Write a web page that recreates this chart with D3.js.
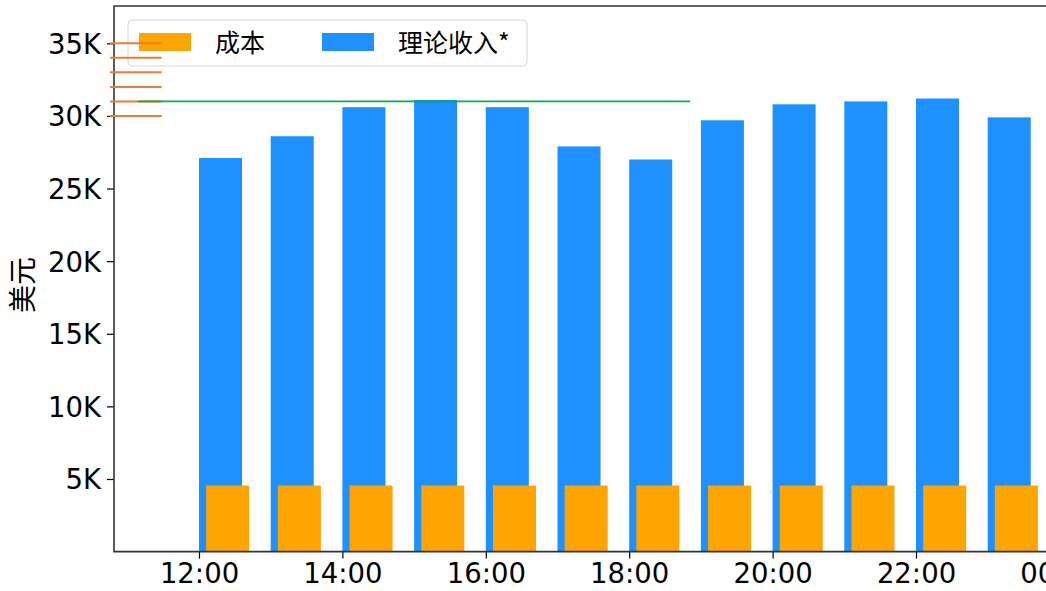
<!DOCTYPE html>
<html>
<head>
<meta charset="utf-8">
<script src="https://cdn.jsdelivr.net/npm/d3@7"></script>
<style>
  body { margin: 0; background: #fff; }
  svg text { font-family: "DejaVu Sans", sans-serif; }
  .cjk { font-family: "Noto Sans CJK SC", "DejaVu Sans", sans-serif; }
</style>
</head>
<body>
<div id="chart"></div>
<script>
// hours of the day (bars start on the hour)
var hours = [12, 13, 14, 15, 16, 17, 18, 19, 20, 21, 22, 23];
var revenue = [27100, 28600, 30600, 31100, 30600, 27900, 27000, 29700, 30800, 31000, 31200, 29900];
var cost = [4550, 4550, 4550, 4550, 4550, 4550, 4550, 4550, 4550, 4550, 4550, 4550];
var xTicks = [12, 14, 16, 18, 20, 22, 24];
var yTicks = [5000, 10000, 15000, 20000, 25000, 30000, 35000];
var seriesNames = ["成本", "理论收入*"];
// hand drawn marks over the chart
var markLevels = [35000, 34000, 33000, 32000, 31000, 30000];
var markSpan = [10.76, 11.48];
var refLevel = 31000;
var refSpan = [11.15, 18.85];

var width = 1046, height = 591;
var plotLeft = 114, plotTop = 6, plotBottom = 551.6, plotRight = 1100;

var x = d3.scaleLinear().domain([12, 22]).range([199, 916]);
var y = d3.scaleLinear().domain([0, 37570]).range([plotBottom, plotTop]);
var barW = x(12.6) - x(12);

var svg = d3.select("#chart").append("svg")
    .attr("width", width)
    .attr("height", height);

// blue bars
svg.selectAll(".rev")
  .data(hours)
  .enter().append("rect")
    .attr("class", "rev")
    .attr("x", function(d) { return x(d); })
    .attr("y", function(d, i) { return y(revenue[i]); })
    .attr("width", barW)
    .attr("height", function(d, i) { return y(0) - y(revenue[i]); })
    .style("fill", "#1E90FF");

// orange bars, shifted a little to the right
svg.selectAll(".cost")
  .data(hours)
  .enter().append("rect")
    .attr("class", "cost")
    .attr("x", function(d) { return x(d + 0.1); })
    .attr("y", function(d, i) { return y(cost[i]); })
    .attr("width", barW)
    .attr("height", function(d, i) { return y(0) - y(cost[i]); })
    .style("fill", "#FFA500");

// axes
var xAxis = svg.append("g")
    .attr("transform", "translate(0," + plotBottom + ")")
    .call(d3.axisBottom(x).tickValues(xTicks).tickSize(7).tickPadding(5)
      .tickFormat(function(d) { return d3.format("02")(d % 24) + ":00"; }));
var yAxis = svg.append("g")
    .attr("transform", "translate(" + plotLeft + ",0)")
    .call(d3.axisLeft(y).tickValues(yTicks).tickSize(7).tickPadding(6)
      .tickFormat(function(d) { return (d / 1000) + "K"; }));

[xAxis, yAxis].forEach(function(a) {
  a.select(".domain").remove();
  a.selectAll("line").style("stroke", "#000").style("stroke-width", 1.2);
  a.selectAll("text").style("font-size", "27.5px").style("fill", "#000")
    .style("font-family", "DejaVu Sans");
});
yAxis.selectAll("text").attr("dy", "0.36em");

// spines
svg.append("path")
    .attr("d", "M" + plotRight + "," + plotTop + "H" + plotLeft + "V" + plotBottom + "H" + plotRight)
    .style("fill", "none")
    .style("stroke", "#333")
    .style("stroke-width", 1.6);

svg.append("text")
    .attr("class", "cjk")
    .attr("transform", "translate(33,285) rotate(-90)")
    .attr("text-anchor", "middle")
    .style("font-size", "28px")
    .text("美元");

// legend
var lg = svg.append("g").attr("transform", "translate(128,20)");
lg.append("rect")
    .attr("width", 399).attr("height", 46).attr("rx", 4)
    .style("fill", "#fff").style("fill-opacity", 0.8)
    .style("stroke", "#d6d6d6");
var legendX = [11, 194];
var legendColors = ["#FFA500", "#1E90FF"];
seriesNames.forEach(function(n, i) {
  lg.append("rect")
      .attr("x", legendX[i]).attr("y", 13)
      .attr("width", 52).attr("height", 18)
      .style("fill", legendColors[i]);
  lg.append("text")
      .attr("class", "cjk")
      .attr("x", legendX[i] + 76).attr("y", 23)
      .attr("dy", "0.36em")
      .style("font-size", "25px")
      .text(n);
});

// marks
svg.selectAll(".mark")
  .data(markLevels)
  .enter().append("line")
    .attr("class", "mark")
    .attr("x1", x(markSpan[0])).attr("x2", x(markSpan[1]))
    .attr("y1", function(d) { return y(d); })
    .attr("y2", function(d) { return y(d); })
    .style("stroke", "#ED7D31")
    .style("stroke-width", 2);

svg.append("line")
    .attr("x1", x(refSpan[0])).attr("x2", x(refSpan[1]))
    .attr("y1", y(refLevel)).attr("y2", y(refLevel))
    .style("stroke", "#00B050")
    .style("stroke-width", 1.6);
</script>
</body>
</html>
